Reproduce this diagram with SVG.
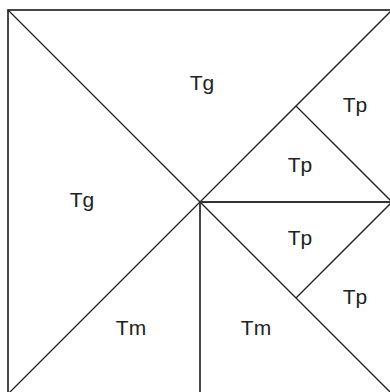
<svg xmlns="http://www.w3.org/2000/svg" width="390" height="392" viewBox="0 0 390 392">
<style>
.ln{stroke:#222;stroke-width:1.3;fill:none}
.ed{stroke:#333;stroke-width:1.8;fill:none}
.lb{font-family:"Liberation Sans",Arial,sans-serif;font-size:21px;fill:#222;text-anchor:middle}
</style>
<rect width="390" height="392" fill="#fff"/>
<g id="connectors">
<rect class="ed" x="8" y="10" width="384" height="384"/>
<line class="ln" x1="8" y1="10" x2="392" y2="394"/>
<line class="ln" x1="392" y1="10" x2="8" y2="394"/>
<line class="ed" x1="200" y1="202" x2="392" y2="202"/>
<line class="ed" x1="200" y1="202" x2="200" y2="394"/>
<line class="ln" x1="296" y1="106" x2="392" y2="202"/>
<line class="ln" x1="392" y1="202" x2="296" y2="298"/>
</g>
<g id="tg-top"><text class="lb" x="202" y="90">Tg</text></g>
<g id="tg-left"><text class="lb" x="82" y="207">Tg</text></g>
<g id="tp-1"><text class="lb" x="355" y="112">Tp</text></g>
<g id="tp-2"><text class="lb" x="300" y="172">Tp</text></g>
<g id="tp-3"><text class="lb" x="300" y="245">Tp</text></g>
<g id="tp-4"><text class="lb" x="355" y="304">Tp</text></g>
<g id="tm-1"><text class="lb" x="131" y="335">Tm</text></g>
<g id="tm-2"><text class="lb" x="256" y="335">Tm</text></g>
</svg>
